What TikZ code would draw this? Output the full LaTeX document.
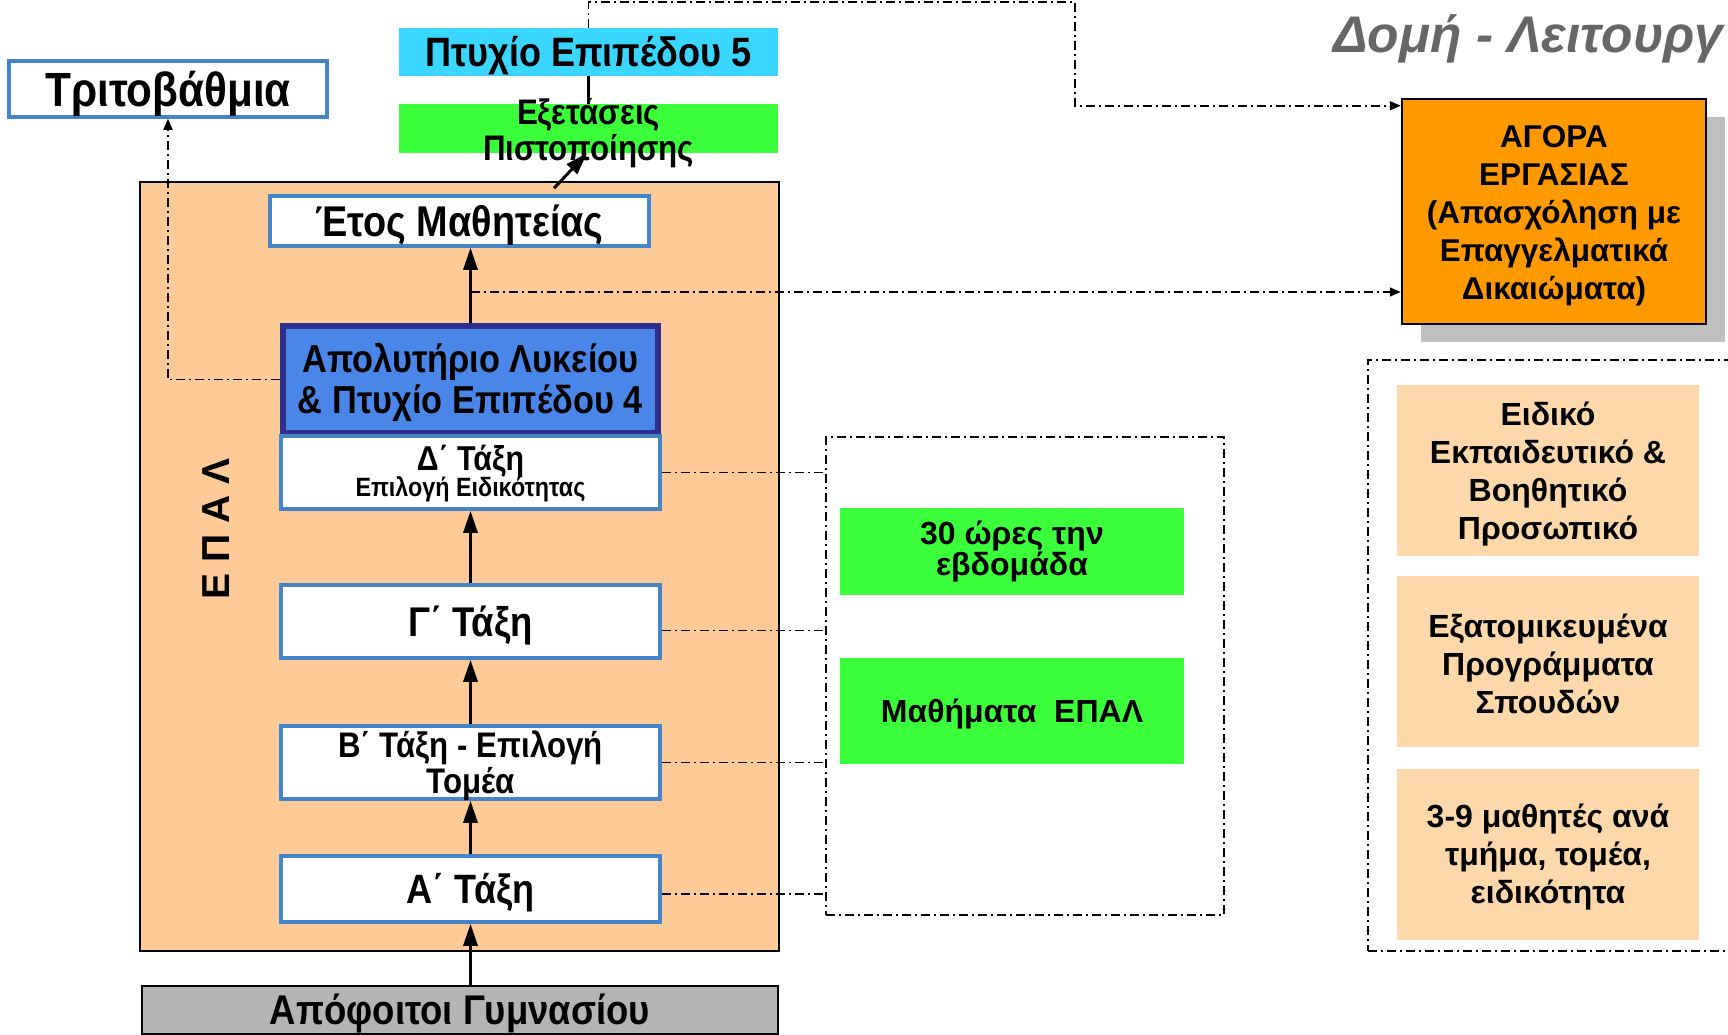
\documentclass[tikz,border=0pt]{standalone}
\usepackage{fontspec}
\setmainfont{Liberation Sans}
\newfontfamily\narrowfont[FakeStretch=0.88]{Liberation Sans}
\usetikzlibrary{arrows.meta,calc}

\definecolor{cyanbox}{RGB}{58,214,255}
\definecolor{greenbox}{RGB}{58,255,58}
\definecolor{epalfill}{RGB}{254,202,152}
\definecolor{taxiline}{RGB}{68,132,200}
\definecolor{apolytfill}{RGB}{74,134,232}
\definecolor{apolytline}{RGB}{46,46,140}
\definecolor{apofgray}{RGB}{180,180,180}
\definecolor{agorafill}{RGB}{255,153,0}
\definecolor{shadowgray}{RGB}{191,191,191}
\definecolor{sidefill}{RGB}{253,216,170}
\definecolor{titlegray}{RGB}{102,102,102}

\begin{document}
\begin{tikzpicture}[x=1pt,y=1pt,yscale=-1,xscale=1,
  taxi/.style={draw=taxiline,line width=3.5pt,fill=white,minimum width=379pt,minimum height=73pt,inner sep=0pt,align=center},
  flat/.style={minimum width=344pt,inner sep=0pt,align=center},
  side/.style={fill=sidefill,minimum width=302pt,minimum height=171pt,inner sep=0pt},
  sidetext/.style={align=center,inner sep=0pt,font=\fontsize{32}{38}\selectfont\bfseries},
  uparrow/.style={line width=3pt,-{Triangle[length=22pt,width=14pt]}},
  dashdot/.style={line width=1.6pt,dash pattern=on 9pt off 4pt on 2pt off 4pt},
  dashtip/.style={dashdot,-{Triangle[length=11pt,width=9pt]}}
]
\useasboundingbox (0,0) rectangle (1728,1034);
\clip (0,0) rectangle (1728,1034);

%Shape: Rectangle [ΕΠΑΛ]
\draw [line width=2pt,fill=epalfill] (140,182) rectangle (779,951) ;
%Shape: Rectangle [shadow]
\fill [shadowgray] (1421,117) rectangle (1725,342) ;

% Text Node
\node [rotate=90,font=\fontsize{39}{40}\selectfont\bfseries] (epal) at (216,529) {Ε Π Α Λ};
% Text Node
\node [anchor=base west,inner sep=0pt,text=titlegray,font=\fontsize{51.5}{53}\selectfont\bfseries\itshape] (title) at (1333,52) {Δομή - Λειτουργ};

% Text Node
\node [draw=taxiline,line width=3.5pt,fill=white,minimum width=318pt,minimum height=56pt,inner sep=0pt,text height=34.4pt,text depth=0pt,font=\narrowfont\fontsize{48}{50}\selectfont\bfseries] (trito) at (168,89) {Τριτοβάθμια};
% Text Node
\node [flat,fill=cyanbox,minimum width=379pt,minimum height=48pt,text height=29.4pt,text depth=0pt,font=\narrowfont\fontsize{41}{43}\selectfont\bfseries] (ptyxio) at (588.5,52) {Πτυχίο Επιπέδου 5};
% Text Node
\node [flat,fill=greenbox,minimum width=379pt,minimum height=49pt] (exetaseis) at (588.5,128.5) {};
\node [align=center,inner sep=0pt,font=\narrowfont\fontsize{35.5}{36}\selectfont\bfseries] (exetext) at (588.5,133) {Εξετάσεις\\Πιστοποίησης};
% Text Node
\node [taxi,minimum height=50pt,text height=30.8pt,text depth=0pt,font=\narrowfont\fontsize{43}{45}\selectfont\bfseries] (etos) at (459.5,221) {Έτος Μαθητείας};
% Text Node
\node [draw=apolytline,line width=6pt,fill=apolytfill,minimum width=375pt,minimum height=107pt,inner sep=0pt,align=center,text height=68.9pt,text depth=0pt,font=\narrowfont\fontsize{39}{41}\selectfont\bfseries] (apolyt) at (470.5,379.5) {Απολυτήριο Λυκείου\\\& Πτυχίο Επιπέδου 4};
% Text Node
\node [taxi,text height=47.5pt,text depth=0pt,font=\narrowfont\bfseries] (taxiD) at (470.5,472.5) {\fontsize{34.5}{26}\selectfont Δ΄ Τάξη\\[-2pt]\fontsize{26.5}{26}\selectfont Επιλογή Ειδικότητας};
% Text Node
\node [taxi,text height=29.7pt,text depth=0pt,font=\narrowfont\fontsize{41.5}{43}\selectfont\bfseries] (taxiG) at (470.5,621.5) {Γ΄ Τάξη};
% Text Node
\node [taxi,text height=61.4pt,text depth=0pt,font=\narrowfont\fontsize{35.5}{36}\selectfont\bfseries] (taxiB) at (470.5,762.5) {Β΄ Τάξη - Επιλογή\\Τομέα};
% Text Node
\node [taxi,minimum height=66pt,text height=29.4pt,text depth=0pt,font=\narrowfont\fontsize{41}{43}\selectfont\bfseries] (taxiA) at (470.5,889) {Α΄ Τάξη};
% Text Node
\node [draw,line width=2.5pt,fill=apofgray,minimum width=636pt,minimum height=48pt,inner sep=0pt,text height=29.7pt,text depth=0pt,font=\narrowfont\fontsize{41.5}{43}\selectfont\bfseries] (apofoitoi) at (460,1010) {Απόφοιτοι Γυμνασίου};

% Text Node
\node [draw,dashdot,minimum width=398pt,minimum height=478pt] (midbox) at (1025,676) {};
% Text Node
\node [flat,fill=greenbox,minimum height=87pt,font=\fontsize{32}{31}\selectfont\bfseries] (hours) at (1012,551.5) {30 ώρες την\\εβδομάδα};
% Text Node
\node [flat,fill=greenbox,minimum height=106pt,text height=22.9pt,text depth=0pt,font=\fontsize{32}{34}\selectfont\bfseries] (mathimata) at (1012,711) {Μαθήματα~ ΕΠΑΛ};

% Text Node
\node [draw,line width=2.5pt,fill=agorafill,minimum width=304pt,minimum height=225pt,inner sep=0pt] (agora) at (1554,211.5) {};
\node [align=center,inner sep=0pt,font=\fontsize{31.5}{38}\selectfont\bfseries] (agoratext) at ($(agora)+(0,4.5)$) {ΑΓΟΡΑ\\ΕΡΓΑΣΙΑΣ\\(Απασχόληση με\\Επαγγελματικά\\Δικαιώματα)};

% Text Node
\node [draw,dashdot,minimum width=400pt,minimum height=591pt] (sidebox) at (1568,655.5) {};
% Text Node
\node [side] (eidiko) at (1548,470) {};
\node [sidetext] (eidikotext) at ($(eidiko)+(0,4)$) {Ειδικό\\Εκπαιδευτικό \&\\Βοηθητικό\\Προσωπικό};
% Text Node
\node [side] (programmata) at (1548,661.5) {};
\node [sidetext] (programmatatext) at ($(programmata)+(0,2.5)$) {Εξατομικευμένα\\Προγράμματα\\Σπουδών};
% Text Node
\node [side] (mathites) at (1548,854.5) {};
\node [sidetext] (mathitestext) at ($(mathites)+(0,3)$) {3-9 μαθητές ανά\\τμήμα, τομέα,\\ειδικότητα};

%Straight Lines
\draw [uparrow] (taxiA.south |- apofoitoi.north) -- (taxiA.south) ;
\draw [uparrow] (taxiA.north) -- (taxiB.south) ;
\draw [uparrow] (taxiB.north) -- (taxiG.south) ;
\draw [uparrow] (taxiG.north) -- (taxiD.south) ;
\draw [uparrow] (apolyt.north) -- (apolyt.north |- etos.south) ;
\draw [uparrow] ($(etos.north)+(94.5,-6)$) -- ($(exetaseis.south)+(-1.5,0)$) ;
\draw [line width=2.5pt] (ptyxio.south) -- (exetaseis.north) ;

%Dash Dot Lines
\coordinate (split) at ($(apolyt.north)+(0,-31)$) ;
\draw [dashtip] (ptyxio.north) |- (1075,2) |- ($(agora.north west)+(0,8)$) ;
\draw [dashtip] (split) -- (split -| agora.west) ;
\draw [dashtip] (apolyt.west) -| (trito.south) ;
\draw [dashdot] (taxiD.east) -- (taxiD.east -| midbox.west) ;
\draw [dashdot] ($(taxiG.east)+(0,9)$) -- ($(taxiG.east -| midbox.west)+(0,9)$) ;
\draw [dashdot] (taxiB.east) -- (taxiB.east -| midbox.west) ;
\draw [dashdot] ($(taxiA.east)+(0,5)$) -- ($(taxiA.east -| midbox.west)+(0,5)$) ;

\end{tikzpicture}
\end{document}
